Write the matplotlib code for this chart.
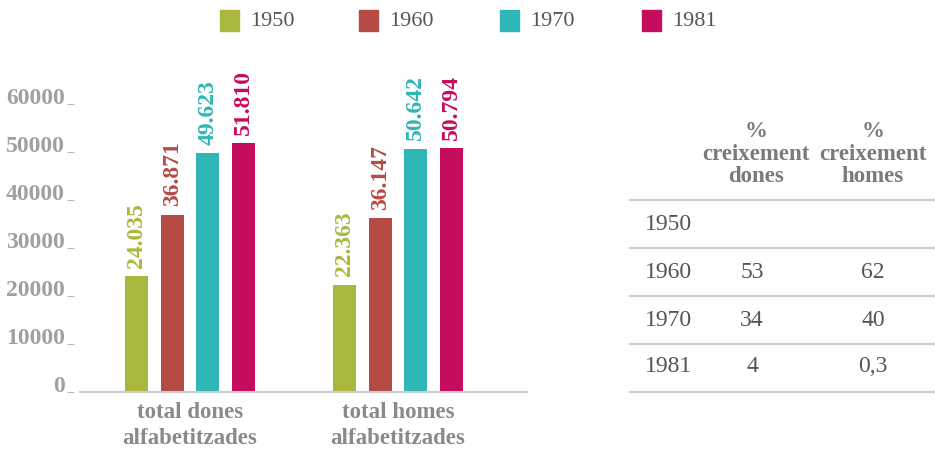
import matplotlib
matplotlib.use("Agg")
import matplotlib.pyplot as plt
from matplotlib.patches import Rectangle
from matplotlib.lines import Line2D

plt.rcParams['font.family'] = ['Liberation Serif', 'DejaVu Serif']

# ---- data ----
groups = ["total dones\nalfabetitzades", "total homes\nalfabetitzades"]
years = ["1950", "1960", "1970", "1981"]
colors = ["#A9B83C", "#B54B44", "#2FB6B6", "#C60C5C"]
dones = [24035, 36871, 49623, 51810]
homes = [22363, 36147, 50642, 50794]
yticks = [0, 10000, 20000, 30000, 40000, 50000, 60000]
table_header = ["%\ncreixement\ndones", "%\ncreixement\nhomes"]
table_years = ["1950", "1960", "1970", "1981"]
growth_dones = ["", "53", "34", "4"]
growth_homes = ["", "62", "40", "0,3"]

W, H = 935, 450
fig = plt.figure(figsize=(W / 100, H / 100), dpi=100)

def fx(px):
    return px / W

def fy(py):
    return 1 - py / H

# ---- axes ----
ax_left, ax_right, ax_bottom, ax_top = 80, 527, 392, 103.6
ax = fig.add_axes([fx(ax_left), fy(ax_bottom), fx(ax_right - ax_left), (ax_bottom - ax_top) / H])
ax.set_ylim(0, 60000)
ax.set_xlim(-0.529, 1.620)

step = 0.1707
width = 0.1106
offsets = [-1.5 * step, -0.5 * step, 0.5 * step, 1.5 * step]
series = list(zip(dones, homes))
for i, (yr, col) in enumerate(zip(years, colors)):
    vals = series[i]
    xs = [g + offsets[i] for g in range(len(groups))]
    ax.bar(xs, vals, width=width, color=col, zorder=3)
    for x, v in zip(xs, vals):
        ax.annotate(f"{v:,}".replace(",", "."), xy=(x, v), xytext=(0, 6),
                    textcoords="offset points", rotation=90, ha="center",
                    va="bottom", color=col, fontsize=17, fontweight="bold")

for s in ["top", "right"]:
    ax.spines[s].set_visible(False)
ax.spines["left"].set_visible(False)
ax.spines["left"].set_position(("outward", 4))
ax.spines["bottom"].set_color("#cccccc")
ax.spines["bottom"].set_linewidth(1.5)
ax.spines["bottom"].set_zorder(4)

ax.set_yticks(yticks)
ax.set_yticklabels([str(t) for t in yticks])
ax.tick_params(axis="y", length=5, width=0.8, color="#bbbbbb", pad=2,
               labelsize=17, labelcolor="#a0a0a0")
for lab in ax.get_yticklabels():
    lab.set_fontweight("bold")
    lab.set_va("baseline")

ax.set_xticks(range(len(groups)))
ax.set_xticklabels(groups, fontsize=16.5, fontweight="bold", color="#8a8a8a",
                   linespacing=1.3)
ax.tick_params(axis="x", length=0, pad=7)

# ---- legend ----
sq_x = [220, 359, 500, 642]
for x, yr, col in zip(sq_x, years, colors):
    fig.patches.append(Rectangle((fx(x), fy(31)), fx(19), 21 / H,
                                 transform=fig.transFigure, color=col))
    fig.text(fx(x + 30), fy(21), yr, fontsize=16, color="#555555",
             va="center", ha="left")

# ---- table ----
line_ys = [200, 248, 296, 344, 392]
for y in line_ys:
    fig.add_artist(Line2D([fx(630), fx(935)], [fy(y), fy(y)],
                          color="#cccccc", linewidth=1.5,
                          transform=fig.transFigure))
col_x = [756, 873]
for cx, hdr in zip(col_x, table_header):
    fig.text(fx(cx), fy(154), hdr, fontsize=16.5, fontweight="bold",
             color="#7a7a7a", ha="center", va="center", linespacing=1.12)
row_ys = [224, 272, 320, 367]
for ry, yr, gd, gh in zip(row_ys, table_years, growth_dones, growth_homes):
    fig.text(fx(645), fy(ry), yr, fontsize=17, color="#555555",
             ha="left", va="center")
    fig.text(fx(col_x[0] - 4), fy(ry), gd, fontsize=17, color="#555555",
             ha="center", va="center")
    fig.text(fx(col_x[1]), fy(ry), gh, fontsize=17, color="#555555",
             ha="center", va="center")

fig.savefig("out.png", dpi=100)
